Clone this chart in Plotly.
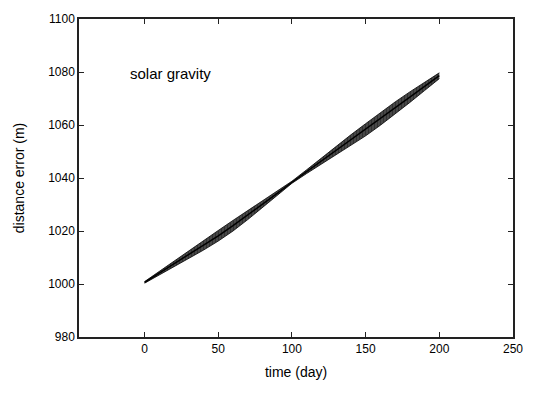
import plotly.graph_objects as go

# envelope of the oscillating distance error
t_day = [0, 10, 20, 30, 40, 50, 60, 70, 80, 90, 100,
         110, 120, 130, 140, 150, 160, 170, 180, 190, 200]
center_m = [1000.6, 1004.1, 1007.7, 1011.2, 1014.6, 1018.2, 1022.0, 1026.0, 1030.0, 1034.2, 1038.4,
            1042.4, 1046.4, 1050.3, 1054.2, 1058.2, 1062.3, 1066.4, 1070.5, 1074.6, 1078.6]
halfwidth_m = [0.3, 0.7, 1.1, 1.5, 1.8, 2.0, 2.0, 1.7, 1.2, 0.7, 0.4,
               0.7, 1.2, 1.7, 2.1, 2.3, 2.4, 2.3, 2.0, 1.6, 1.1]

x_ticks = [0, 50, 100, 150, 200, 250]
y_ticks = [980, 1000, 1020, 1040, 1060, 1080, 1100]

upper = [c + h for c, h in zip(center_m, halfwidth_m)]
lower = [c - h for c, h in zip(center_m, halfwidth_m)]

fig = go.Figure()
fig.add_trace(go.Scatter(x=t_day, y=lower, mode="lines",
                         line=dict(color="black", width=0.8), showlegend=False))
fig.add_trace(go.Scatter(x=t_day, y=upper, mode="lines", fill="tonexty",
                         fillcolor="rgba(0,0,0,0.85)",
                         fillpattern=dict(shape="|", fgcolor="black", bgcolor="rgba(60,60,60,0.8)",
                                          size=3, solidity=0.7),
                         line=dict(color="black", width=0.8), showlegend=False))
fig.add_trace(go.Scatter(x=t_day, y=center_m, mode="lines",
                         line=dict(color="black", width=1.5), showlegend=False))

fig.add_annotation(x=17.5, y=1079.5, text="solar gravity", showarrow=False,
                   font=dict(family="Liberation Sans, Arial", size=15, color="black"))

axis_common = dict(showline=True, linecolor="#222", linewidth=1.5, mirror="ticks",
                   ticks="inside", ticklen=5, tickwidth=1, tickcolor="#222",
                   showgrid=False, zeroline=False,
                   tickfont=dict(family="Liberation Sans, Arial", size=12, color="black"),
                   title_font=dict(family="Liberation Sans, Arial", size=14, color="black"))

fig.update_xaxes(range=[-44.5, 250], tickvals=x_ticks, title_text="time (day)",
                 title_standoff=12, **axis_common)
fig.update_yaxes(range=[980, 1100], tickvals=y_ticks, title_text="distance error (m)",
                 title_standoff=20, **axis_common)

fig.update_layout(width=535, height=394, margin=dict(l=79, r=14, t=14, b=57),
                  plot_bgcolor="white", paper_bgcolor="white")

fig.write_html("out.html")
